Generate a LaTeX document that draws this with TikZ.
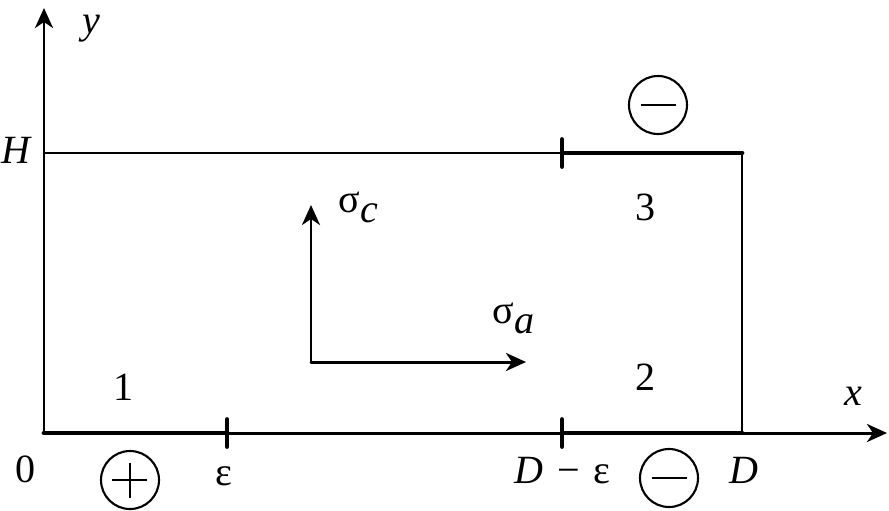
\documentclass[tikz,border=0pt]{standalone}
\usepackage{fontspec}
\setmainfont{Liberation Serif}
\usepackage{tkz-euclide}
\usetikzlibrary{arrows.meta}

\begin{document}
\begin{tikzpicture}[x=1cm,y=1cm,
    every node/.style={font=\fontsize{11.4}{14}\selectfont, inner sep=0pt},
    side/.style={line width=0.75pt},
    plate/.style={line width=1.35pt},
    tick/.style={line width=1.35pt},
    axisline/.style={line width=0.85pt, -{Stealth[length=2mm,width=1.8mm,inset=0.6mm]}},
    sign/.style={circle, draw, line width=0.6pt, minimum size=5.8mm},
    signminus/.style={sign, path picture={
        \draw[line width=0.6pt] ([xshift=-1.75mm]path picture bounding box.center)
          -- ([xshift=1.75mm]path picture bounding box.center);}},
    signplus/.style={sign, path picture={
        \draw[line width=0.6pt] ([xshift=-1.75mm]path picture bounding box.center)
          -- ([xshift=1.75mm]path picture bounding box.center);
        \draw[line width=0.6pt] ([yshift=-1.75mm]path picture bounding box.center)
          -- ([yshift=1.75mm]path picture bounding box.center);}}]
      \useasboundingbox (-0.44,-0.77) rectangle (8.45,4.33);

      % axes
      \tkzDefPoint(0,0){O}
      \tkzDefPoint(8.43,0){X}
      \tkzDefPoint(0,4.25){Y}
      \tkzDrawSegment[axisline](O,X)
      \tkzDrawSegment[axisline](O,Y)

      % plate
      \tkzDefPoint(0,2.80){H}
      \tkzDefPoint(1.83,0){E}
      \tkzDefPoint(5.18,0){DE}
      \tkzDefPoint(5.18,2.80){DE'}
      \tkzDefPoint(6.98,0){D}
      \tkzDefPoint(6.98,2.80){D'}
      \tkzDrawSegment[side](H,DE')
      \tkzDrawSegment[side](D',D)
      \tkzDrawSegments[plate](O,E DE,D DE',D')

      % ticks
      \tkzDefPoint(1.83,0.135){e1}
      \tkzDefPoint(1.83,-0.135){e2}
      \tkzDefPoint(5.18,0.135){de1}
      \tkzDefPoint(5.18,-0.135){de2}
      \tkzDefPoint(5.18,2.935){de1'}
      \tkzDefPoint(5.18,2.665){de2'}
      \tkzDrawSegments[tick](e1,e2 de1,de2 de1',de2')

      % stresses
      \tkzDefPoint(2.67,0.71){s}
      \tkzDefPoint(2.67,2.28){sc}
      \tkzDefPoint(4.82,0.71){sa}
      \tkzDrawSegment[axisline](s,sc)
      \tkzDrawSegment[axisline](s,sa)

      \node[signminus] (mtop) at (6.14,3.28) {};
      \node[signplus] (pbot) at (0.86,-0.47) {};
      \node[signminus] (mbot) at (6.25,-0.45) {};

      \node (ly) at (0.47,4.045) {\textit{y}};
      \node[anchor=base] (lx) at (8.09,0.28) {\textit{x}};
      \node (lH) at (-0.27,2.83) {\textit{H}};
      \node[anchor=base] (l0) at (-0.18,-0.49) {0};
      \node[anchor=base] (le) at (1.795,-0.52) {ε};
      \node[anchor=base] (lde) at (5.185,-0.50) {\textit{D}\,\,−\,\,ε};
      \node[anchor=base] (lD) at (7.00,-0.50) {\textit{D}};
      \node[anchor=base] (t1) at (0.795,0.33) {1};
      \node[anchor=base] (t2) at (6.02,0.43) {2};
      \node[anchor=base] (t3) at (6.02,2.13) {3};
      \node[anchor=base west] (lsc) at (2.94,2.21) {σ\raisebox{-0.27em}{\textit{c}}};
      \node[anchor=base west] (lsa) at (4.48,1.10) {σ\raisebox{-0.27em}{\textit{a}}};
\end{tikzpicture}
\end{document}
